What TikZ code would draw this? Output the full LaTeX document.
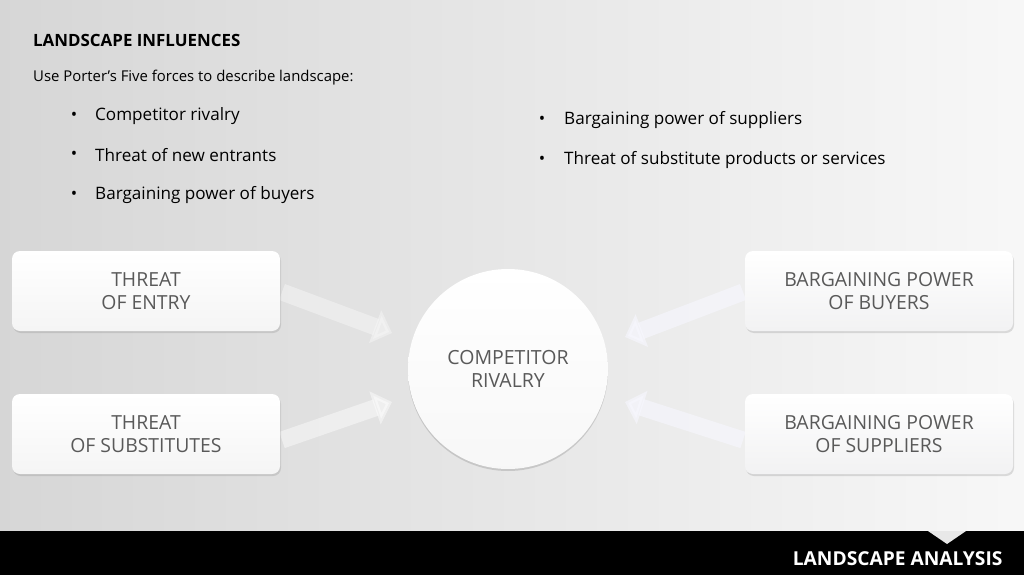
\documentclass[tikz,border=0pt]{standalone}
\usepackage{fontspec}
\setmainfont{Open Sans}
\usetikzlibrary{arrows.meta,shadows}
\begin{document}
\begin{tikzpicture}[x=1pt,y=-1pt,
  box/.style={draw=none,rounded corners=8pt,minimum width=268pt,minimum height=80pt,top color=white,bottom color=gray!8,drop shadow={opacity=0.25,shadow xshift=1pt,shadow yshift=-2pt},text=black!65,font=\fontsize{19.4}{23}\selectfont,align=center},
  rbox/.style={box,top color=white,bottom color=blue!4!gray!10},
  fa/.style={line width=17pt,-{Triangle[width=34pt,length=18pt]},draw=white,opacity=0.45},
  txt/.style={anchor=west,font=\fontsize{17.1}{20}\selectfont,inner sep=0pt},
  bul/.style={anchor=center,font=\fontsize{17}{20}\selectfont,inner sep=0pt}]
\useasboundingbox (0,0) rectangle (1024,575);
\shade[shading angle=60,left color=gray!32,right color=gray!6] (0,0) rectangle (1024,531);
\fill[black] (0,531) rectangle (1024,575);
\fill[gray!18] (928,531) -- (966,531) -- (947,544) -- cycle;
\node[anchor=east,text=white,font=\bfseries\fontsize{19.2}{23}\selectfont] (foot) at (1006,559) {LANDSCAPE ANALYSIS};
\node[txt,font=\bfseries\fontsize{16.9}{20}\selectfont] (title) at (33,40) {LANDSCAPE INFLUENCES};
\node[txt,font=\fontsize{14.9}{18}\selectfont] (intro) at (33,78) {Use Porter’s Five forces to describe landscape:};
\node[bul] (b1) at (74,116) {•}; \node[txt] (t1) at (95,116) {Competitor rivalry};
\node[bul] (b2) at (74,155) {•}; \node[txt] (t2) at (95,155) {Threat of new entrants};
\node[bul] (b3) at (74,195) {•}; \node[txt] (t3) at (95,195) {Bargaining power of buyers};
\node[bul] (b4) at (542,120) {•}; \node[txt] (t4) at (564,120) {Bargaining power of suppliers};
\node[bul] (b5) at (542,160) {•}; \node[txt] (t5) at (564,160) {Threat of substitute products or services};
\coordinate (a1s) at (282,292); \coordinate (a1e) at (392,333);
\coordinate (a2s) at (282,440); \coordinate (a2e) at (392,402);
\coordinate (a3s) at (743,292); \coordinate (a3e) at (625,337);
\coordinate (a4s) at (743,440); \coordinate (a4e) at (625,402);
\draw[fa,draw=gray!5] (a1s) -- (a1e);
\draw[fa] (a2s) -- (a2e);
\draw[fa,draw=blue!3!white,opacity=0.6] (a3s) -- (a3e);
\draw[fa,draw=blue!3!white,opacity=0.6] (a4s) -- (a4e);
\node[box] (entry) at (146,291) {THREAT\\OF ENTRY};
\node[box] (subs) at (146,434) {THREAT\\OF SUBSTITUTES};
\node[rbox] (buyers) at (879,291) {BARGAINING POWER\\OF BUYERS};
\node[rbox] (supp) at (879,434) {BARGAINING POWER\\OF SUPPLIERS};
\node[circle,minimum size=200pt,top color=white,bottom color=gray!6,drop shadow={opacity=0.3,shadow xshift=0pt,shadow yshift=-2pt},text=black!65,font=\fontsize{19.5}{23}\selectfont,align=center] (rival) at (508,369) {COMPETITOR\\RIVALRY};
\end{tikzpicture}
\end{document}
